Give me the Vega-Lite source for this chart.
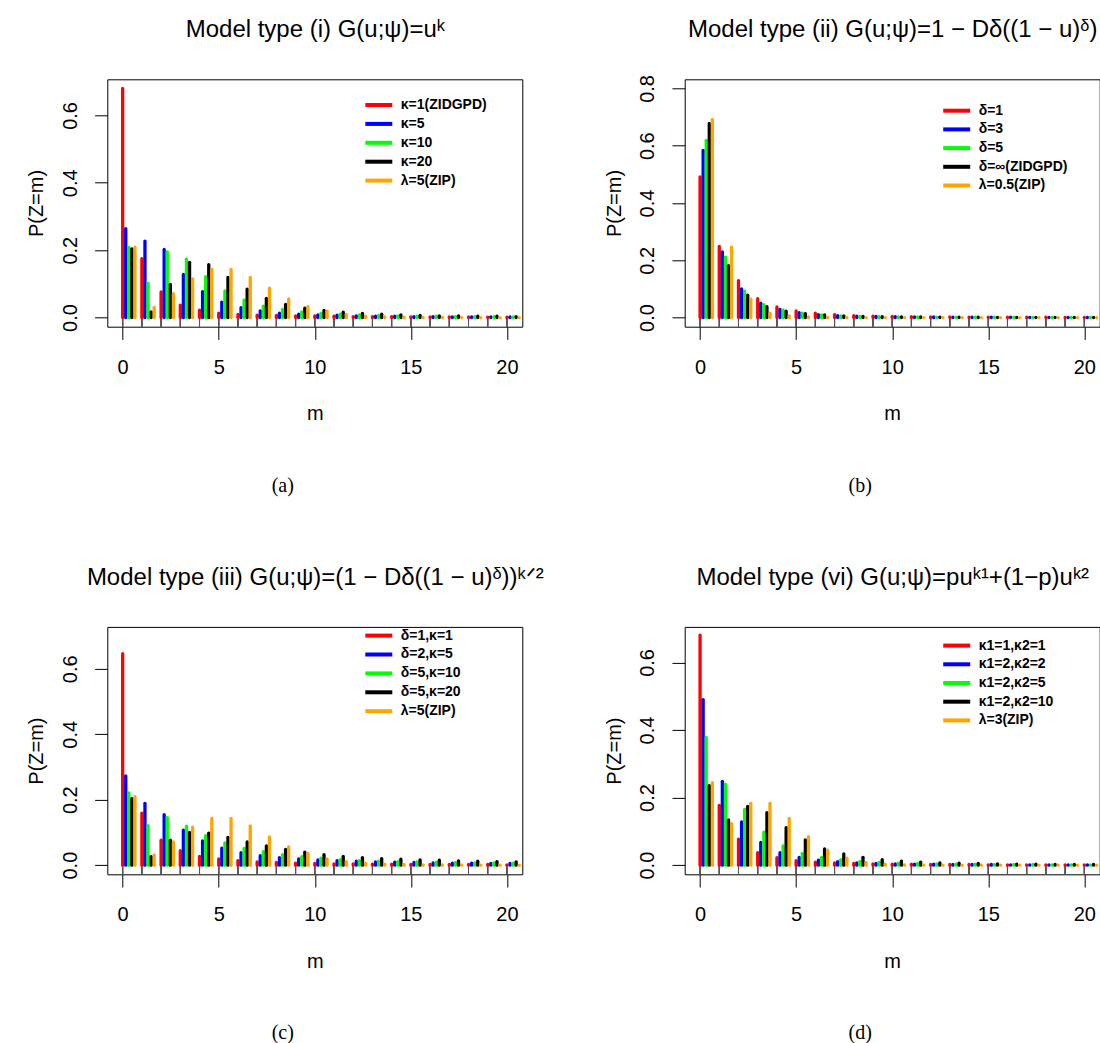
{
"$schema": "https://vega.github.io/schema/vega-lite/v6.json",
"autosize": {"type": "none"},
"padding": {"left": 107.3, "top": 79.3, "right": 1000, "bottom": 1000},
"background": "white",
"config": {
  "view": {"stroke": "black", "strokeWidth": 1},
  "font": "Liberation Sans",
  "axis": {"grid": false, "domain": false, "tickColor": "black", "tickSize": 12.7, "tickWidth": 1, "labelColor": "black", "labelFontSize": 20, "titleColor": "black", "titleFontSize": 20, "titleFontWeight": "normal", "labelFont": "Liberation Sans", "titleFont": "Liberation Sans", "labelFlush": false, "labelOverlap": false},
  "legend": {"orient": "none", "title": null, "symbolType": "M-2.7,0H2.7", "symbolSize": 100, "symbolStrokeWidth": 4, "labelOffset": 15, "labelFont": "Liberation Sans", "labelFontSize": 14, "labelFontWeight": "bold", "labelColor": "black", "rowPadding": 2.9, "padding": 0}
},
"datasets": {
"a": [
{"m":0,"s1":0.680,"s2":0.264,"s3":0.208,"s4":0.204,"s5":0.209},
{"m":1,"s1":0.175,"s2":0.227,"s3":0.101,"s4":0.017,"s5":0.030},
{"m":2,"s1":0.076,"s2":0.202,"s3":0.195,"s4":0.098,"s5":0.071},
{"m":3,"s1":0.037,"s2":0.128,"s3":0.173,"s4":0.164,"s5":0.115},
{"m":4,"s1":0.022,"s2":0.077,"s3":0.121,"s4":0.157,"s5":0.143},
{"m":5,"s1":0.013,"s2":0.046,"s3":0.079,"s4":0.119,"s5":0.143},
{"m":6,"s1":0.009,"s2":0.029,"s3":0.052,"s4":0.084,"s5":0.119},
{"m":7,"s1":0.007,"s2":0.020,"s3":0.034,"s4":0.057,"s5":0.087},
{"m":8,"s1":0.006,"s2":0.013,"s3":0.024,"s4":0.039,"s5":0.055},
{"m":9,"s1":0.005,"s2":0.010,"s3":0.017,"s4":0.028,"s5":0.032},
{"m":10,"s1":0.005,"s2":0.008,"s3":0.012,"s4":0.021,"s5":0.019},
{"m":11,"s1":0.004,"s2":0.007,"s3":0.010,"s4":0.016,"s5":0.009},
{"m":12,"s1":0.003,"s2":0.005,"s3":0.008,"s4":0.012,"s5":0.004},
{"m":13,"s1":0.003,"s2":0.004,"s3":0.006,"s4":0.010,"s5":0.002},
{"m":14,"s1":0.003,"s2":0.004,"s3":0.005,"s4":0.008,"s5":0.001},
{"m":15,"s1":0.002,"s2":0.003,"s3":0.004,"s4":0.006,"s5":0.0005},
{"m":16,"s1":0.002,"s2":0.003,"s3":0.004,"s4":0.005,"s5":0.0002},
{"m":17,"s1":0.002,"s2":0.002,"s3":0.003,"s4":0.005,"s5":0.0001},
{"m":18,"s1":0.002,"s2":0.002,"s3":0.003,"s4":0.004,"s5":0},
{"m":19,"s1":0.001,"s2":0.002,"s3":0.003,"s4":0.004,"s5":0},
{"m":20,"s1":0.001,"s2":0.002,"s3":0.002,"s4":0.003,"s5":0}
],
"b": [
{"m":0,"s1":0.491,"s2":0.584,"s3":0.619,"s4":0.678,"s5":0.692},
{"m":1,"s1":0.248,"s2":0.229,"s3":0.211,"s4":0.181,"s5":0.246},
{"m":2,"s1":0.129,"s2":0.100,"s3":0.092,"s4":0.078,"s5":0.064},
{"m":3,"s1":0.066,"s2":0.050,"s3":0.045,"s4":0.038,"s5":0.015},
{"m":4,"s1":0.037,"s2":0.028,"s3":0.027,"s4":0.022,"s5":0.006},
{"m":5,"s1":0.023,"s2":0.017,"s3":0.015,"s4":0.014,"s5":0.002},
{"m":6,"s1":0.015,"s2":0.010,"s3":0.009,"s4":0.009,"s5":0.0005},
{"m":7,"s1":0.010,"s2":0.007,"s3":0.006,"s4":0.006,"s5":0.0001},
{"m":8,"s1":0.007,"s2":0.005,"s3":0.004,"s4":0.004,"s5":0},
{"m":9,"s1":0.005,"s2":0.004,"s3":0.003,"s4":0.003,"s5":0},
{"m":10,"s1":0.004,"s2":0.003,"s3":0.002,"s4":0.002,"s5":0},
{"m":11,"s1":0.003,"s2":0.002,"s3":0.002,"s4":0.002,"s5":0},
{"m":12,"s1":0.002,"s2":0.002,"s3":0.001,"s4":0.001,"s5":0},
{"m":13,"s1":0.002,"s2":0.001,"s3":0.001,"s4":0.001,"s5":0},
{"m":14,"s1":0.001,"s2":0.001,"s3":0.001,"s4":0.001,"s5":0},
{"m":15,"s1":0.001,"s2":0.001,"s3":0.001,"s4":0.0005,"s5":0},
{"m":16,"s1":0.001,"s2":0.001,"s3":0.0005,"s4":0.0005,"s5":0},
{"m":17,"s1":0.001,"s2":0.0005,"s3":0.0005,"s4":0.0005,"s5":0},
{"m":18,"s1":0.001,"s2":0.0005,"s3":0.0005,"s4":0.0003,"s5":0},
{"m":19,"s1":0.0005,"s2":0.0005,"s3":0.0003,"s4":0.0003,"s5":0},
{"m":20,"s1":0.0005,"s2":0.0003,"s3":0.0003,"s4":0.0002,"s5":0}
],
"c": [
{"m":0,"s1":0.646,"s2":0.273,"s3":0.221,"s4":0.203,"s5":0.209},
{"m":1,"s1":0.159,"s2":0.189,"s3":0.121,"s4":0.026,"s5":0.031},
{"m":2,"s1":0.076,"s2":0.154,"s3":0.145,"s4":0.076,"s5":0.071},
{"m":3,"s1":0.044,"s2":0.107,"s3":0.119,"s4":0.100,"s5":0.116},
{"m":4,"s1":0.027,"s2":0.074,"s3":0.090,"s4":0.098,"s5":0.143},
{"m":5,"s1":0.019,"s2":0.052,"s3":0.068,"s4":0.085,"s5":0.143},
{"m":6,"s1":0.014,"s2":0.038,"s3":0.051,"s4":0.071,"s5":0.120},
{"m":7,"s1":0.010,"s2":0.029,"s3":0.041,"s4":0.059,"s5":0.086},
{"m":8,"s1":0.008,"s2":0.023,"s3":0.032,"s4":0.048,"s5":0.056},
{"m":9,"s1":0.006,"s2":0.019,"s3":0.026,"s4":0.040,"s5":0.036},
{"m":10,"s1":0.005,"s2":0.016,"s3":0.021,"s4":0.032,"s5":0.019},
{"m":11,"s1":0.004,"s2":0.014,"s3":0.017,"s4":0.027,"s5":0.011},
{"m":12,"s1":0.004,"s2":0.012,"s3":0.014,"s4":0.023,"s5":0.006},
{"m":13,"s1":0.003,"s2":0.010,"s3":0.012,"s4":0.020,"s5":0.003},
{"m":14,"s1":0.003,"s2":0.009,"s3":0.011,"s4":0.018,"s5":0.002},
{"m":15,"s1":0.002,"s2":0.008,"s3":0.010,"s4":0.016,"s5":0.001},
{"m":16,"s1":0.002,"s2":0.007,"s3":0.009,"s4":0.015,"s5":0.0005},
{"m":17,"s1":0.002,"s2":0.006,"s3":0.008,"s4":0.013,"s5":0.0002},
{"m":18,"s1":0.002,"s2":0.006,"s3":0.007,"s4":0.012,"s5":0.0001},
{"m":19,"s1":0.002,"s2":0.005,"s3":0.007,"s4":0.011,"s5":0},
{"m":20,"s1":0.001,"s2":0.005,"s3":0.006,"s4":0.010,"s5":0}
],
"d": [
{"m":0,"s1":0.681,"s2":0.490,"s3":0.378,"s4":0.235,"s5":0.244},
{"m":1,"s1":0.177,"s2":0.248,"s3":0.240,"s4":0.134,"s5":0.123},
{"m":2,"s1":0.077,"s2":0.128,"s3":0.165,"s4":0.174,"s5":0.183},
{"m":3,"s1":0.037,"s2":0.067,"s3":0.098,"s4":0.155,"s5":0.183},
{"m":4,"s1":0.022,"s2":0.037,"s3":0.057,"s4":0.111,"s5":0.138},
{"m":5,"s1":0.013,"s2":0.023,"s3":0.035,"s4":0.075,"s5":0.084},
{"m":6,"s1":0.009,"s2":0.015,"s3":0.023,"s4":0.048,"s5":0.044},
{"m":7,"s1":0.007,"s2":0.010,"s3":0.016,"s4":0.033,"s5":0.021},
{"m":8,"s1":0.005,"s2":0.007,"s3":0.011,"s4":0.023,"s5":0.008},
{"m":9,"s1":0.004,"s2":0.005,"s3":0.008,"s4":0.016,"s5":0.003},
{"m":10,"s1":0.003,"s2":0.004,"s3":0.006,"s4":0.012,"s5":0.001},
{"m":11,"s1":0.003,"s2":0.003,"s3":0.005,"s4":0.009,"s5":0.0003},
{"m":12,"s1":0.002,"s2":0.003,"s3":0.004,"s4":0.007,"s5":0.0001},
{"m":13,"s1":0.002,"s2":0.002,"s3":0.003,"s4":0.006,"s5":0},
{"m":14,"s1":0.002,"s2":0.002,"s3":0.003,"s4":0.005,"s5":0},
{"m":15,"s1":0.001,"s2":0.002,"s3":0.002,"s4":0.004,"s5":0},
{"m":16,"s1":0.001,"s2":0.001,"s3":0.002,"s4":0.003,"s5":0},
{"m":17,"s1":0.001,"s2":0.001,"s3":0.002,"s4":0.003,"s5":0},
{"m":18,"s1":0.001,"s2":0.001,"s3":0.001,"s4":0.002,"s5":0},
{"m":19,"s1":0.001,"s2":0.001,"s3":0.001,"s4":0.002,"s5":0},
{"m":20,"s1":0.001,"s2":0.001,"s3":0.001,"s4":0.002,"s5":0}
]
},
"columns": 2,
"bounds": "flush",
"spacing": {"row": 299.6, "column": 162.4},
"resolve": {"scale": {"x": "independent", "y": "independent", "color": "independent", "xOffset": "independent"}, "legend": {"color": "independent"}, "axis": {"x": "independent", "y": "independent"}},
"concat": [
{
 "width": 415, "height": 247.4,
 "title": {"text": "(a)", "orient": "bottom", "offset": 68, "dx": -32, "font": "Liberation Serif", "fontSize": 20, "fontWeight": "normal", "baseline": "alphabetic", "anchor": "middle", "color": "black"},
 "data": {"name": "a"},
 "transform": [{"fold": ["s1","s2","s3","s4","s5"], "as": ["key","p"]}],
 "layer": [
  {"mark": {"type": "rule", "clip": true, "color": "#555555", "strokeWidth": 1},
   "encoding": {
    "x": {"field": "m", "type": "ordinal", "scale": {"type": "point", "padding": 0.8}, "axis": {"orient": "top", "ticks": false, "labels": false, "domain": false, "title": "Model type (i) G(u;ψ)=uᵏ", "titleFontSize": 24, "titleX": 207.5, "titleY": -42.3, "titleBaseline": "alphabetic", "titleAlign": "center"}},
    "y": {"datum": 0, "type": "quantitative", "scale": {"domain": [-0.0272, 0.7072], "nice": false, "zero": false}},
    "y2": {"datum": -0.1}
   }},
  {"mark": {"type": "rule", "strokeWidth": 3.3, "strokeCap": "round"},
   "encoding": {
    "x": {"field": "m", "type": "ordinal", "scale": {"type": "point", "padding": 0.8}, "axis": {"orient": "bottom", "values": [0,5,10,15,20], "labelAngle": 0, "labelPadding": 34, "labelBaseline": "alphabetic", "title": "m", "titleX": 207.5, "titleY": 93, "titleBaseline": "alphabetic", "titleAlign": "center"}},
    "xOffset": {"field": "key", "type": "nominal", "scale": {"type": "point", "domain": ["s1","s2","s3","s4","s5"], "range": [0, 12.3], "padding": 0}},
    "y": {"field": "p", "type": "quantitative", "scale": {"domain": [-0.0272, 0.7072], "nice": false, "zero": false}, "axis": {"values": [0,0.1,0.2,0.3,0.4,0.5,0.6,0.7], "labelExpr": "round(datum.value*10) % 2 == 0 ? format(datum.value, '.1f') : ''", "labelAngle": 270, "labelAlign": "center", "labelBaseline": "alphabetic", "labelPadding": 18, "title": "P(Z=m)", "titleX": -70.5, "titleY": 123.7, "titleAngle": 270, "titleAlign": "center", "titleBaseline": "middle"}},
    "y2": {"datum": 0},
    "color": {"field": "key", "type": "nominal", "scale": {"domain": ["s1","s2","s3","s4","s5"], "range": ["#FF0000","#0000FF","#00FF00","#000000","#FFA500"]}, "legend": {"legendX": 264.5, "legendY": 18.7, "labelExpr": "['κ=1(ZIDGPD)','κ=5','κ=10','κ=20','λ=5(ZIP)'][indexof(['s1','s2','s3','s4','s5'], datum.label)]"}}
   }}
 ],
 "resolve": {"axis": {"x": "independent"}}
},
{
 "width": 415, "height": 247.4,
 "title": {"text": "(b)", "orient": "bottom", "offset": 68, "dx": -32, "font": "Liberation Serif", "fontSize": 20, "fontWeight": "normal", "baseline": "alphabetic", "anchor": "middle", "color": "black"},
 "data": {"name": "b"},
 "transform": [{"fold": ["s1","s2","s3","s4","s5"], "as": ["key","p"]}],
 "layer": [
  {"mark": {"type": "rule", "clip": true, "color": "#555555", "strokeWidth": 1},
   "encoding": {
    "x": {"field": "m", "type": "ordinal", "scale": {"type": "point", "padding": 0.8}, "axis": {"orient": "top", "ticks": false, "labels": false, "domain": false, "title": "Model type (ii) G(u;ψ)=1 − Dδ((1 − u)ᵟ)", "titleFontSize": 24, "titleX": 207.5, "titleY": -42.3, "titleBaseline": "alphabetic", "titleAlign": "center"}},
    "y": {"datum": 0, "type": "quantitative", "scale": {"domain": [-0.032, 0.832], "nice": false, "zero": false}},
    "y2": {"datum": -0.1}
   }},
  {"mark": {"type": "rule", "strokeWidth": 3.3, "strokeCap": "round"},
   "encoding": {
    "x": {"field": "m", "type": "ordinal", "scale": {"type": "point", "padding": 0.8}, "axis": {"orient": "bottom", "values": [0,5,10,15,20], "labelAngle": 0, "labelPadding": 34, "labelBaseline": "alphabetic", "title": "m", "titleX": 207.5, "titleY": 93, "titleBaseline": "alphabetic", "titleAlign": "center"}},
    "xOffset": {"field": "key", "type": "nominal", "scale": {"type": "point", "domain": ["s1","s2","s3","s4","s5"], "range": [0, 12.3], "padding": 0}},
    "y": {"field": "p", "type": "quantitative", "scale": {"domain": [-0.032, 0.832], "nice": false, "zero": false}, "axis": {"values": [0,0.2,0.4,0.6,0.8], "format": ".1f", "labelAngle": 270, "labelAlign": "center", "labelBaseline": "alphabetic", "labelPadding": 18, "title": "P(Z=m)", "titleX": -70.5, "titleY": 123.7, "titleAngle": 270, "titleAlign": "center", "titleBaseline": "middle"}},
    "y2": {"datum": 0},
    "color": {"field": "key", "type": "nominal", "scale": {"domain": ["s1","s2","s3","s4","s5"], "range": ["#FF0000","#0000FF","#00FF00","#000000","#FFA500"]}, "legend": {"legendX": 265, "legendY": 24.4, "rowPadding": 2.7, "labelExpr": "['δ=1','δ=3','δ=5','δ=∞(ZIDGPD)','λ=0.5(ZIP)'][indexof(['s1','s2','s3','s4','s5'], datum.label)]"}}
   }}
 ],
 "resolve": {"axis": {"x": "independent"}}
},
{
 "width": 415, "height": 247.4,
 "title": {"text": "(c)", "orient": "bottom", "offset": 68, "dx": -32, "font": "Liberation Serif", "fontSize": 20, "fontWeight": "normal", "baseline": "alphabetic", "anchor": "middle", "color": "black"},
 "data": {"name": "c"},
 "transform": [{"fold": ["s1","s2","s3","s4","s5"], "as": ["key","p"]}],
 "layer": [
  {"mark": {"type": "rule", "clip": true, "color": "#555555", "strokeWidth": 1},
   "encoding": {
    "x": {"field": "m", "type": "ordinal", "scale": {"type": "point", "padding": 0.8}, "axis": {"orient": "top", "ticks": false, "labels": false, "domain": false, "title": "Model type (iii) G(u;ψ)=(1 − Dδ((1 − u)ᵟ))ᵏᐟ²", "titleFontSize": 24, "titleX": 207.5, "titleY": -42.3, "titleBaseline": "alphabetic", "titleAlign": "center"}},
    "y": {"datum": 0, "type": "quantitative", "scale": {"domain": [-0.028, 0.728], "nice": false, "zero": false}},
    "y2": {"datum": -0.1}
   }},
  {"mark": {"type": "rule", "strokeWidth": 3.3, "strokeCap": "round"},
   "encoding": {
    "x": {"field": "m", "type": "ordinal", "scale": {"type": "point", "padding": 0.8}, "axis": {"orient": "bottom", "values": [0,5,10,15,20], "labelAngle": 0, "labelPadding": 34, "labelBaseline": "alphabetic", "title": "m", "titleX": 207.5, "titleY": 93, "titleBaseline": "alphabetic", "titleAlign": "center"}},
    "xOffset": {"field": "key", "type": "nominal", "scale": {"type": "point", "domain": ["s1","s2","s3","s4","s5"], "range": [0, 12.3], "padding": 0}},
    "y": {"field": "p", "type": "quantitative", "scale": {"domain": [-0.028, 0.728], "nice": false, "zero": false}, "axis": {"values": [0,0.1,0.2,0.3,0.4,0.5,0.6,0.7], "labelExpr": "round(datum.value*10) % 2 == 0 ? format(datum.value, '.1f') : ''", "labelAngle": 270, "labelAlign": "center", "labelBaseline": "alphabetic", "labelPadding": 18, "title": "P(Z=m)", "titleX": -70.5, "titleY": 123.7, "titleAngle": 270, "titleAlign": "center", "titleBaseline": "middle"}},
    "y2": {"datum": 0},
    "color": {"field": "key", "type": "nominal", "scale": {"domain": ["s1","s2","s3","s4","s5"], "range": ["#FF0000","#0000FF","#00FF00","#000000","#FFA500"]}, "legend": {"legendX": 264.5, "legendY": 1.7, "labelExpr": "['δ=1,κ=1','δ=2,κ=5','δ=5,κ=10','δ=5,κ=20','λ=5(ZIP)'][indexof(['s1','s2','s3','s4','s5'], datum.label)]"}}
   }}
 ],
 "resolve": {"axis": {"x": "independent"}}
},
{
 "width": 415, "height": 247.4,
 "title": {"text": "(d)", "orient": "bottom", "offset": 68, "dx": -32, "font": "Liberation Serif", "fontSize": 20, "fontWeight": "normal", "baseline": "alphabetic", "anchor": "middle", "color": "black"},
 "data": {"name": "d"},
 "transform": [{"fold": ["s1","s2","s3","s4","s5"], "as": ["key","p"]}],
 "layer": [
  {"mark": {"type": "rule", "clip": true, "color": "#555555", "strokeWidth": 1},
   "encoding": {
    "x": {"field": "m", "type": "ordinal", "scale": {"type": "point", "padding": 0.8}, "axis": {"orient": "top", "ticks": false, "labels": false, "domain": false, "title": "Model type (vi) G(u;ψ)=puᵏ¹+(1−p)uᵏ²", "titleFontSize": 24, "titleX": 207.5, "titleY": -42.3, "titleBaseline": "alphabetic", "titleAlign": "center"}},
    "y": {"datum": 0, "type": "quantitative", "scale": {"domain": [-0.0271, 0.7051], "nice": false, "zero": false}},
    "y2": {"datum": -0.1}
   }},
  {"mark": {"type": "rule", "strokeWidth": 3.3, "strokeCap": "round"},
   "encoding": {
    "x": {"field": "m", "type": "ordinal", "scale": {"type": "point", "padding": 0.8}, "axis": {"orient": "bottom", "values": [0,5,10,15,20], "labelAngle": 0, "labelPadding": 34, "labelBaseline": "alphabetic", "title": "m", "titleX": 207.5, "titleY": 93, "titleBaseline": "alphabetic", "titleAlign": "center"}},
    "xOffset": {"field": "key", "type": "nominal", "scale": {"type": "point", "domain": ["s1","s2","s3","s4","s5"], "range": [0, 12.3], "padding": 0}},
    "y": {"field": "p", "type": "quantitative", "scale": {"domain": [-0.0271, 0.7051], "nice": false, "zero": false}, "axis": {"values": [0,0.1,0.2,0.3,0.4,0.5,0.6,0.7], "labelExpr": "round(datum.value*10) % 2 == 0 ? format(datum.value, '.1f') : ''", "labelAngle": 270, "labelAlign": "center", "labelBaseline": "alphabetic", "labelPadding": 18, "title": "P(Z=m)", "titleX": -70.5, "titleY": 123.7, "titleAngle": 270, "titleAlign": "center", "titleBaseline": "middle"}},
    "y2": {"datum": 0},
    "color": {"field": "key", "type": "nominal", "scale": {"domain": ["s1","s2","s3","s4","s5"], "range": ["#FF0000","#0000FF","#00FF00","#000000","#FFA500"]}, "legend": {"legendX": 265, "legendY": 11.7, "rowPadding": 2.7, "labelExpr": "['κ1=1,κ2=1','κ1=2,κ2=2','κ1=2,κ2=5','κ1=2,κ2=10','λ=3(ZIP)'][indexof(['s1','s2','s3','s4','s5'], datum.label)]"}}
   }}
 ],
 "resolve": {"axis": {"x": "independent"}}
}
]
}
